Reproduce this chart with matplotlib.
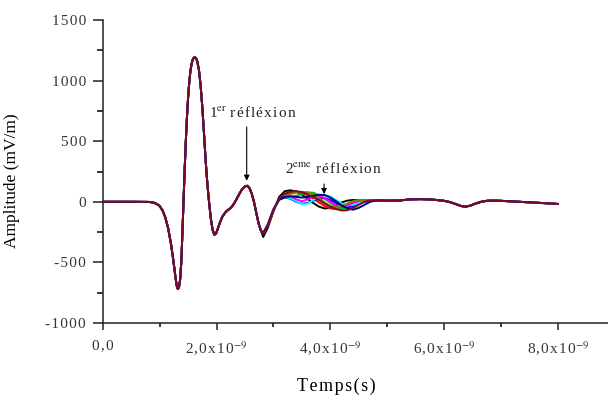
import matplotlib
matplotlib.use("Agg")
import matplotlib.pyplot as plt
from matplotlib.ticker import MultipleLocator, FuncFormatter

plt.rcParams['font.family'] = ['Liberation Serif', 'DejaVu Serif']
plt.rcParams['mathtext.fontset'] = 'stix'

# temps en ns, amplitude en mV/m
# partie commune a toutes les courbes (impulsion + 1ere reflexion)
t_main = [0.0, 0.5, 0.8, 0.85, 0.9, 0.95, 1.0, 1.05, 1.1, 1.15, 1.2, 1.24, 1.28, 1.30,
          1.32, 1.34, 1.36, 1.38, 1.40, 1.42, 1.44, 1.46, 1.48, 1.50, 1.52, 1.54, 1.56,
          1.58, 1.60, 1.62, 1.64, 1.66, 1.69, 1.72, 1.75, 1.78, 1.81, 1.84, 1.87, 1.90,
          1.93, 1.96, 1.99, 2.02, 2.06, 2.10, 2.15, 2.20, 2.25, 2.30, 2.35, 2.40, 2.45,
          2.50, 2.54, 2.58, 2.62, 2.66, 2.70, 2.74, 2.78]
amp_main = [0, 0, -1, -3, -8, -18, -35, -70, -130, -220, -350, -480, -630, -692,
            -720, -705, -640, -500, -260, 10, 270, 500, 700, 860, 985, 1075, 1135,
            1172, 1188, 1192, 1185, 1160, 1090, 960, 780, 560, 330, 140, -10, -140,
            -230, -272, -262, -225, -170, -125, -90, -68, -50, -20, 20, 65, 105,
            127, 132, 112, 65, -5, -95, -180, -238]

# zone de la 2eme reflexion, une liste par courbe
t_refl = [2.82, 2.90, 3.00, 3.10, 3.20, 3.30, 3.40, 3.50, 3.60, 3.70, 3.80, 3.90, 4.00,
          4.10, 4.20, 4.30, 4.40, 4.50, 4.60, 4.70, 4.80, 4.90, 5.00, 5.10, 5.20]
amp_black = [-290, -215, -80, 40, 88, 95, 85, 60, 25, -10, -40, -55, -50, -30, -5, 10, 15, 12, 10, 8, 8, 8, 8, 9, 10]
amp_red = [-262, -195, -70, 25, 60, 78, 82, 75, 55, 25, -5, -35, -55, -60, -45, -20, 0, 12, 15, 12, 10, 9, 9, 9, 10]
amp_green = [-258, -190, -65, 15, 35, 40, 50, 65, 78, 75, 55, 25, -10, -40, -60, -55, -35, -10, 8, 15, 14, 11, 10, 10, 10]
amp_blue = [-258, -190, -60, 20, 38, 25, 0, -15, -10, 10, 28, 30, 15, -10, -35, -45, -35, -15, 0, 10, 12, 10, 9, 9, 10]
amp_cyan = [-258, -190, -60, 22, 42, 30, 5, -20, -15, 15, 45, 55, 45, 15, -15, -30, -25, -10, 5, 12, 12, 10, 9, 9, 10]
amp_magenta = [-258, -190, -62, 25, 48, 45, 20, 5, 20, 45, 50, 30, 0, -30, -40, -30, -10, 5, 12, 12, 10, 9, 9, 9, 10]
amp_olive = [-260, -192, -68, 20, 50, 65, 75, 82, 78, 60, 30, -5, -35, -45, -35, -15, 5, 14, 14, 11, 10, 9, 9, 9, 10]
amp_navy = [-260, -192, -66, 18, 40, 45, 40, 35, 40, 50, 58, 55, 35, 5, -30, -55, -65, -50, -25, 0, 10, 12, 10, 10, 10]
amp_wine = [-262, -195, -72, 30, 68, 85, 88, 80, 62, 40, 15, -15, -40, -60, -72, -70, -50, -25, 0, 12, 12, 10, 9, 9, 10]

# fin du signal, commune
t_tail = [5.4, 5.6, 5.8, 6.0, 6.1, 6.2, 6.3, 6.37, 6.45, 6.55, 6.65, 6.75, 6.85,
          7.0, 7.2, 7.4, 7.6, 7.8, 8.0]
amp_tail = [20, 22, 18, 8, -2, -18, -35, -40, -33, -15, 0, 8, 10,
            8, 3, -2, -7, -12, -18]

refl_curves = [amp_black, amp_red, amp_green, amp_blue, amp_cyan,
               amp_magenta, amp_olive, amp_navy, amp_wine]
colors = ['black', 'red', '#00c000', 'blue', 'cyan', 'magenta', '#808000', '#000080', '#7a0a2a']


def spaced(s):
    # petit espacement entre les lettres comme sur l'original
    return '\u200a'.join(s)


fig = plt.figure(figsize=(6.08, 4.0), dpi=100)
ax = fig.add_axes([0.169, 0.1925, 0.831, 0.7575])

t_all = [v * 1e-9 for v in t_main + t_refl + t_tail]
for amp, c in zip(refl_curves, colors):
    ax.plot(t_all, amp_main + amp + amp_tail, color=c, lw=1.4)

ax.set_xlim(0, 8.88e-9)
ax.set_ylim(-1000, 1500)

ax.spines['top'].set_visible(False)
ax.spines['right'].set_visible(False)
for s in ['left', 'bottom']:
    ax.spines[s].set_linewidth(1.1)
    ax.spines[s].set_color('#222222')

ax.xaxis.set_major_locator(MultipleLocator(2e-9))
ax.xaxis.set_minor_locator(MultipleLocator(1e-9))
ax.yaxis.set_major_locator(MultipleLocator(500))
ax.yaxis.set_minor_locator(MultipleLocator(250))


def fmt_x(v, pos):
    if abs(v) < 1e-15:
        return spaced('0,0')
    return spaced('%.1f' % (v * 1e9)).replace('.', ',') + '\u200ax\u200a1\u200a0$^{-9}$'


ax.xaxis.set_major_formatter(FuncFormatter(fmt_x))
ax.yaxis.set_major_formatter(FuncFormatter(lambda v, p: spaced('%d' % v)))

ax.tick_params(axis='x', which='major', length=5, width=1.1, pad=7, labelsize=11, colors='#222222', labelcolor='#333344')
ax.tick_params(axis='x', which='minor', length=3, width=1.1)
ax.tick_params(axis='y', which='major', length=7, width=1.1, pad=5, labelsize=11, colors='#222222', labelcolor='#333344')
ax.tick_params(axis='y', which='minor', length=4, width=1.1)

ax.set_xlabel(spaced('Temps(s)'), fontsize=13)
ax.xaxis.set_label_coords(0.463, -0.18)
ax.set_ylabel('Amplitude (mV/m)', fontsize=12.5)
ax.yaxis.set_label_coords(-0.164, 0.47)

arrow = dict(arrowstyle='-|>', color='black', lw=0.8, mutation_scale=8)
ax.text(1.86e-9, 734, '1$^{\\mathrm{er}}$' + ' ' + spaced('réfléxion'), fontsize=11,
        va='center', ha='left', color='#222222')
ax.annotate('', xy=(2.53e-9, 150), xytext=(2.53e-9, 640), arrowprops=arrow)
ax.text(3.21e-9, 272, '2$^{\\mathrm{eme}}$' + ' ' + spaced('réfléxion'), fontsize=11,
        va='center', ha='left', color='#222222')
ax.annotate('', xy=(3.89e-9, 40), xytext=(3.89e-9, 170), arrowprops=arrow)

fig.savefig('out.png', dpi=100)
